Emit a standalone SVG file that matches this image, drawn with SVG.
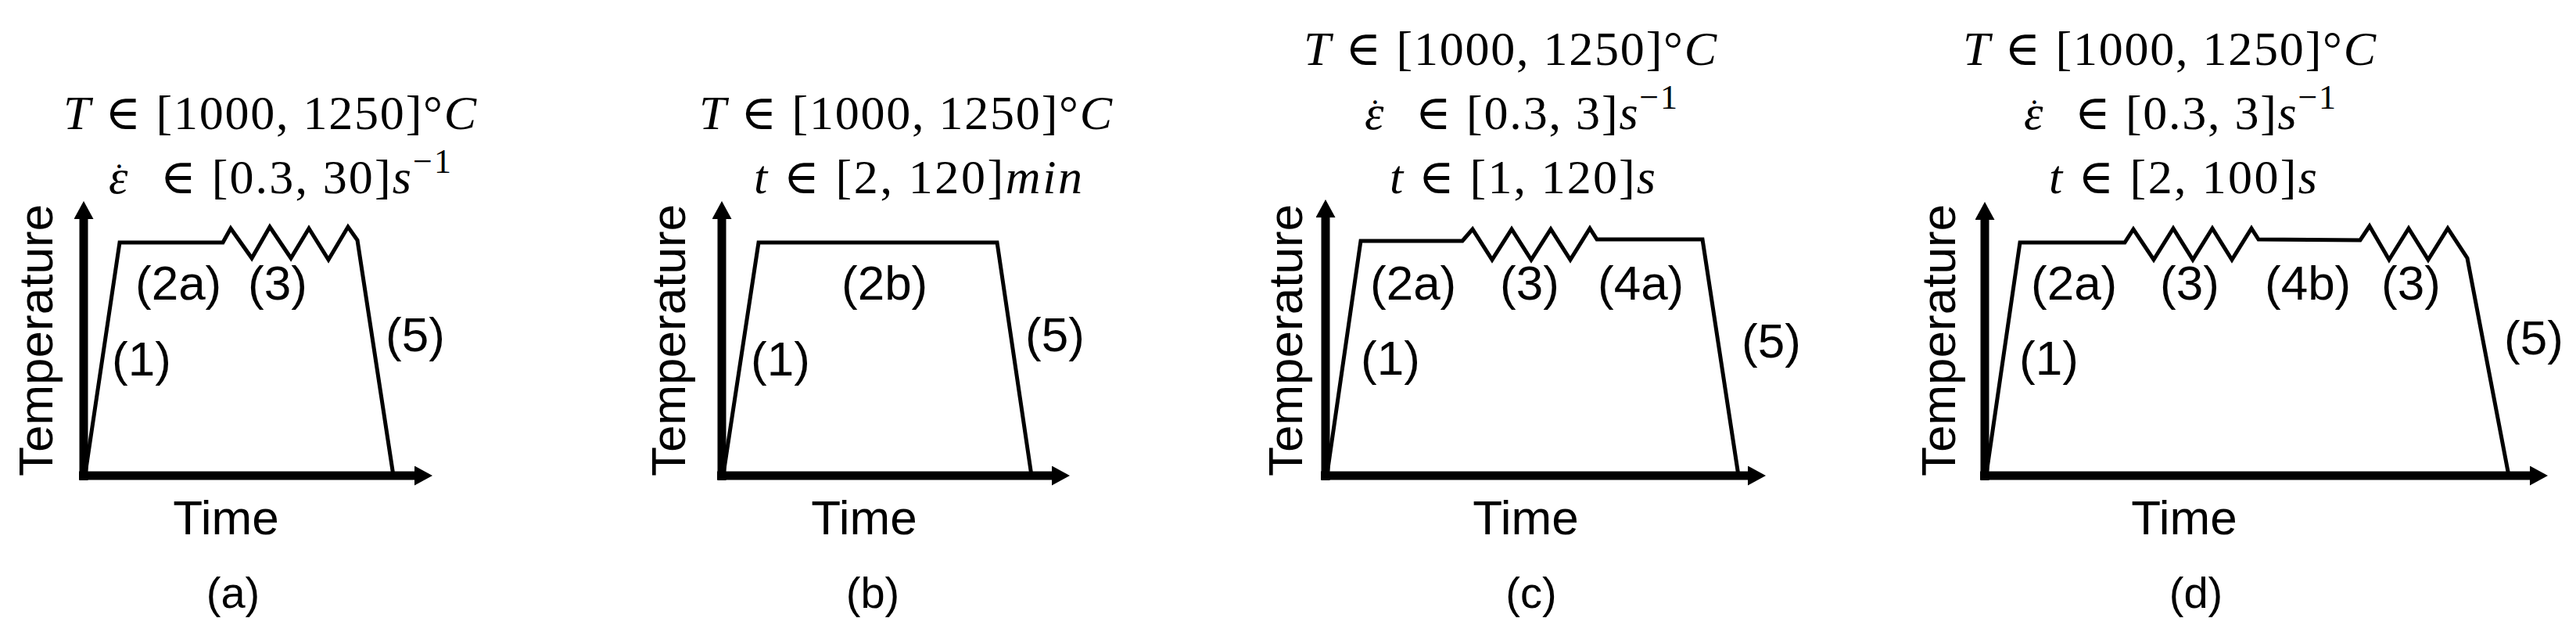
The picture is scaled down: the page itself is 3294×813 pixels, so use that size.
<svg xmlns="http://www.w3.org/2000/svg" width="3294" height="813" viewBox="0 0 3294 813">
<style>
.ax{stroke:#000;stroke-width:11;fill:none}
.pf{stroke:#000;stroke-width:5;fill:none;stroke-linejoin:miter}
.lbl{font-family:"Liberation Sans",Arial,sans-serif;font-size:62px;fill:#000}
.eq{font-family:"Liberation Serif","DejaVu Serif",serif;font-size:62px;fill:#000}
.dot{font-size:44px;font-style:normal}
.cap{font-family:"Liberation Sans",Arial,sans-serif;font-size:56px;fill:#000;text-anchor:middle}
.mid{text-anchor:middle}
.i{font-style:italic}
</style>
<defs>
<marker id="ah" markerUnits="userSpaceOnUse" markerWidth="24" markerHeight="26" refX="0" refY="12.5" orient="auto">
<path d="M0,0 L23,12.5 L0,25 z" fill="#000"/>
</marker>
</defs>

<g id="panel-a">
<g id="axes-a"><line class="ax" x1="107" y1="614" x2="107" y2="280" marker-end="url(#ah)"/><line class="ax" x1="101" y1="608" x2="530" y2="608" marker-end="url(#ah)"/></g>
<path id="profile-a" class="pf" d="M109,606 L153,310 L285,310 L295,292 L322,330 L345,290 L372,330 L395,292 L420,332 L445,290 L457,307 L503,608"/>
<text class="eq" x="81" y="165" textLength="528"><tspan class="i">T</tspan> ∈ [1000, 1250]°<tspan class="i">C</tspan></text>
<text class="eq i" x="139" y="247">ε<tspan class="dot" dx="-18.5" dy="-7">˙</tspan></text>
<text class="eq" x="205" y="247" textLength="372">∈ [0.3, 30]<tspan class="i">s</tspan><tspan font-size="44" dy="-26">−1</tspan></text>
<text class="lbl" x="173" y="383">(2a)</text>
<text class="lbl" x="317" y="383">(3)</text>
<text class="lbl" x="143" y="480">(1)</text>
<text class="lbl" x="493" y="449">(5)</text>
<text class="lbl mid" transform="translate(67,435) rotate(-90)">Temperature</text>
<text class="lbl mid" x="289" y="683">Time</text>
<text class="cap" x="298" y="777">(a)</text>
</g>

<g id="panel-b">
<g id="axes-b"><line class="ax" x1="923" y1="614" x2="923" y2="280" marker-end="url(#ah)"/><line class="ax" x1="917" y1="608" x2="1345" y2="608" marker-end="url(#ah)"/></g>
<path id="profile-b" class="pf" d="M925,606 L970,310 L1275,310 L1319,608"/>
<text class="eq" x="894" y="165" textLength="528"><tspan class="i">T</tspan> ∈ [1000, 1250]°<tspan class="i">C</tspan></text>
<text class="eq" x="964" y="247" textLength="420"><tspan class="i">t</tspan> ∈ [2, 120]<tspan class="i">min</tspan></text>
<text class="lbl" x="1076" y="383">(2b)</text>
<text class="lbl" x="960" y="480">(1)</text>
<text class="lbl" x="1311" y="449">(5)</text>
<text class="lbl mid" transform="translate(876,435) rotate(-90)">Temperature</text>
<text class="lbl mid" x="1105" y="683">Time</text>
<text class="cap" x="1116" y="777">(b)</text>
</g>

<g id="panel-c">
<g id="axes-c"><line class="ax" x1="1695" y1="614" x2="1695" y2="278" marker-end="url(#ah)"/><line class="ax" x1="1689" y1="608" x2="2235" y2="608" marker-end="url(#ah)"/></g>
<path id="profile-c" class="pf" d="M1697,606 L1740,308 L1870,308 L1883,293 L1908,332 L1933,293 L1958,332 L1983,293 L2008,332 L2033,292 L2042,306 L2177,306 L2223,608"/>
<text class="eq" x="1667" y="83" textLength="528"><tspan class="i">T</tspan> ∈ [1000, 1250]°<tspan class="i">C</tspan></text>
<text class="eq i" x="1745" y="165">ε<tspan class="dot" dx="-18.5" dy="-7">˙</tspan></text>
<text class="eq" x="1810" y="165" textLength="335">∈ [0.3, 3]<tspan class="i">s</tspan><tspan font-size="44" dy="-26">−1</tspan></text>
<text class="eq" x="1777" y="247" textLength="340"><tspan class="i">t</tspan> ∈ [1, 120]<tspan class="i">s</tspan></text>
<text class="lbl" x="1752" y="383">(2a)</text>
<text class="lbl" x="1918" y="383">(3)</text>
<text class="lbl" x="2043" y="383">(4a)</text>
<text class="lbl" x="1740" y="479">(1)</text>
<text class="lbl" x="2227" y="457">(5)</text>
<text class="lbl mid" transform="translate(1665,435) rotate(-90)">Temperature</text>
<text class="lbl mid" x="1951" y="683">Time</text>
<text class="cap" x="1958" y="777">(c)</text>
</g>

<g id="panel-d">
<g id="axes-d"><line class="ax" x1="2538" y1="614" x2="2538" y2="281" marker-end="url(#ah)"/><line class="ax" x1="2532" y1="608" x2="3235" y2="608" marker-end="url(#ah)"/></g>
<path id="profile-d" class="pf" d="M2540,606 L2583,310 L2717,310 L2728,293 L2754,332 L2779,292 L2804,332 L2829,292 L2854,332 L2879,292 L2888,306 L3018,307 L3030,289 L3055,332 L3080,292 L3105,332 L3130,292 L3155,330 L3208,608"/>
<text class="eq" x="2510" y="83" textLength="528"><tspan class="i">T</tspan> ∈ [1000, 1250]°<tspan class="i">C</tspan></text>
<text class="eq i" x="2588" y="165">ε<tspan class="dot" dx="-18.5" dy="-7">˙</tspan></text>
<text class="eq" x="2653" y="165" textLength="334">∈ [0.3, 3]<tspan class="i">s</tspan><tspan font-size="44" dy="-26">−1</tspan></text>
<text class="eq" x="2620" y="247" textLength="343"><tspan class="i">t</tspan> ∈ [2, 100]<tspan class="i">s</tspan></text>
<text class="lbl" x="2597" y="383">(2a)</text>
<text class="lbl" x="2762" y="383">(3)</text>
<text class="lbl" x="2896" y="383">(4b)</text>
<text class="lbl" x="3045" y="383">(3)</text>
<text class="lbl" x="2582" y="479">(1)</text>
<text class="lbl" x="3202" y="453">(5)</text>
<text class="lbl mid" transform="translate(2500,435) rotate(-90)">Temperature</text>
<text class="lbl mid" x="2793" y="683">Time</text>
<text class="cap" x="2808" y="777">(d)</text>
</g>
</svg>
